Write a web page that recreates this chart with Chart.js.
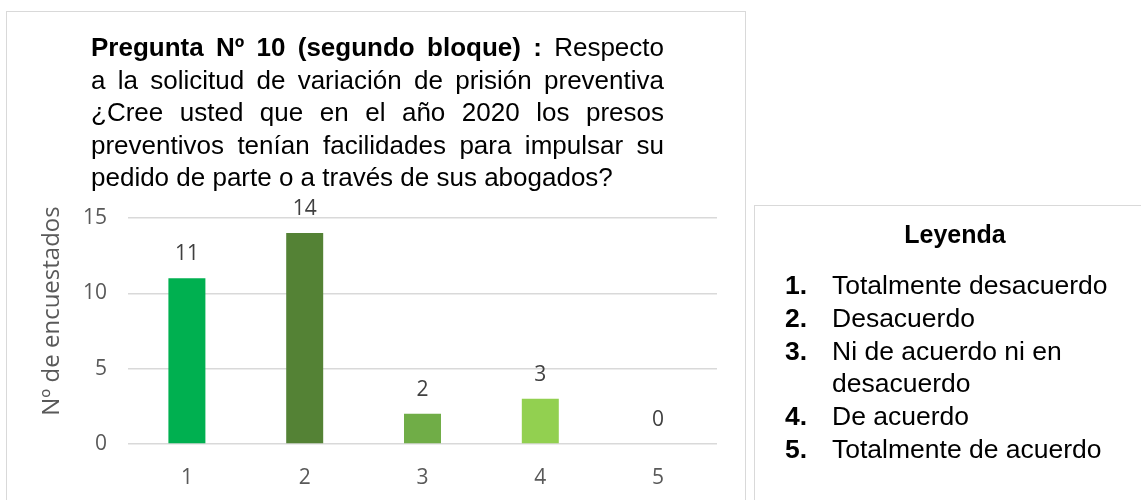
<!DOCTYPE html>
<html>
<head>
<meta charset="utf-8">
<script src="https://cdn.jsdelivr.net/npm/chart.js@4.4.0/dist/chart.umd.min.js"></script>
<style>
  body { margin: 0; background: #fff; width: 1141px; height: 500px; overflow: hidden; position: relative; }
  #frame { position: absolute; left: 6px; top: 11px; width: 740px; height: 520px; border: 1.5px solid #d9d9d9; box-sizing: border-box; }
  #chartBox { position: absolute; left: 0; top: 0; width: 760px; height: 500px; }
  #title { position: absolute; left: 91px; top: 31px; width: 573px; font-family: "Liberation Sans", Arial, sans-serif; font-size: 26px; line-height: 32.5px; color: #000; }
  #title div { white-space: nowrap; text-align: justify; text-align-last: justify; }
  #title div.last { text-align-last: left; }
  #legendBox { position: absolute; left: 754px; top: 205px; width: 420px; height: 330px; border: 1.5px solid #d9d9d9; box-sizing: border-box; }
  #legendTitle { position: absolute; left: 955px; top: 219px; transform: translateX(-50%); font-family: "Liberation Sans", Arial, sans-serif; font-weight: bold; font-size: 25px; line-height: 30px; }
  #legendList { position: absolute; left: 785px; top: 269px; width: 350px; font-family: "Liberation Sans", Arial, sans-serif; font-size: 26.5px; line-height: 32.8px; color: #000; }
  .item { display: flex; }
  .item .num { width: 47px; font-weight: bold; flex: none; }
  .item .txt { width: 300px; }
</style>
</head>
<body>
<div id="frame"></div>
<div id="chartBox"><canvas id="barChart"></canvas></div>
<div id="title">
  <div><b>Pregunta Nº 10 (segundo bloque) :</b> Respecto</div>
  <div>a la solicitud de variación de prisión preventiva</div>
  <div>¿Cree usted que en el año 2020 los presos</div>
  <div>preventivos tenían facilidades para impulsar su</div>
  <div class="last">pedido de parte o a través de sus abogados?</div>
</div>
<div id="legendBox"></div>
<div id="legendTitle">Leyenda</div>
<div id="legendList"></div>
<script>
// Data
const categories = ['1', '2', '3', '4', '5'];
const respondents = [11, 14, 2, 3, 0];
const yTicks = [0, 5, 10, 15];
const legendLabels = ['Totalmente desacuerdo', 'Desacuerdo', 'Ni de acuerdo ni en desacuerdo', 'De acuerdo', 'Totalmente de acuerdo'];
const yTitle = 'Nº de encuestados';

const barColors = ['#00B050', '#548235', '#70AD47', '#92D050', '#A9D18E'];

document.addEventListener('DOMContentLoaded', function() {
  // Legend list
  const list = document.getElementById('legendList');
  legendLabels.forEach(function(label, i) {
    const row = document.createElement('div');
    row.className = 'item';
    row.innerHTML = '<span class="num">' + categories[i] + '.</span><span class="txt">' + label + '</span>';
    list.appendChild(row);
  });

  if (typeof Chart === 'undefined') {
    console.error('Chart.js is not loaded');
    return;
  }

  // value labels above bars + rotated axis title
  const valueLabels = {
    id: 'valueLabels',
    afterDatasetsDraw(chart) {
      const ctx = chart.ctx;
      const meta = chart.getDatasetMeta(0);
      ctx.save();
      ctx.font = '21px "Open Sans", sans-serif';
      ctx.fillStyle = '#404040';
      ctx.textAlign = 'center';
      ctx.textBaseline = 'middle';
      meta.data.forEach(function(bar, i) {
        ctx.fillText(String(respondents[i]), bar.x, bar.y - 24);
      });
      ctx.restore();

      // axis title, a little above the plot's middle like the original
      ctx.save();
      ctx.translate(52, chart.chartArea.top + 93);
      ctx.rotate(-Math.PI / 2);
      ctx.font = '24px "Open Sans", sans-serif';
      ctx.fillStyle = '#595959';
      ctx.textAlign = 'center';
      ctx.textBaseline = 'middle';
      ctx.fillText(yTitle, 0, 0);
      ctx.restore();
    }
  };

  const ctxBar = document.getElementById('barChart').getContext('2d');
  new Chart(ctxBar, {
    type: 'bar',
    data: {
      labels: categories,
      datasets: [{
        data: respondents,
        backgroundColor: barColors,
        barPercentage: 0.314,
        categoryPercentage: 1
      }]
    },
    options: {
      responsive: true,
      maintainAspectRatio: false,
      animation: false,
      layout: { padding: { left: 0, top: 218, right: 43, bottom: 0 } },
      plugins: { legend: { display: false }, tooltip: { enabled: false } },
      scales: {
        x: {
          grid: { display: false, drawTicks: false },
          border: { display: false },
          ticks: { color: '#595959', padding: 21, font: { family: 'Open Sans', size: 21 } },
          afterFit: function(scale) { scale.height = 56; }
        },
        y: {
          min: 0,
          max: 15,
          afterBuildTicks: function(scale) { scale.ticks = yTicks.map(v => ({ value: v })); },
          grid: { color: '#d9d9d9', lineWidth: 1.5, drawTicks: false },
          border: { display: false },
          ticks: { color: '#595959', padding: 21, font: { family: 'Open Sans', size: 21 } },
          afterFit: function(scale) { scale.width = 128; }
        }
      }
    },
    plugins: [valueLabels]
  });
});
</script>
</body>
</html>
